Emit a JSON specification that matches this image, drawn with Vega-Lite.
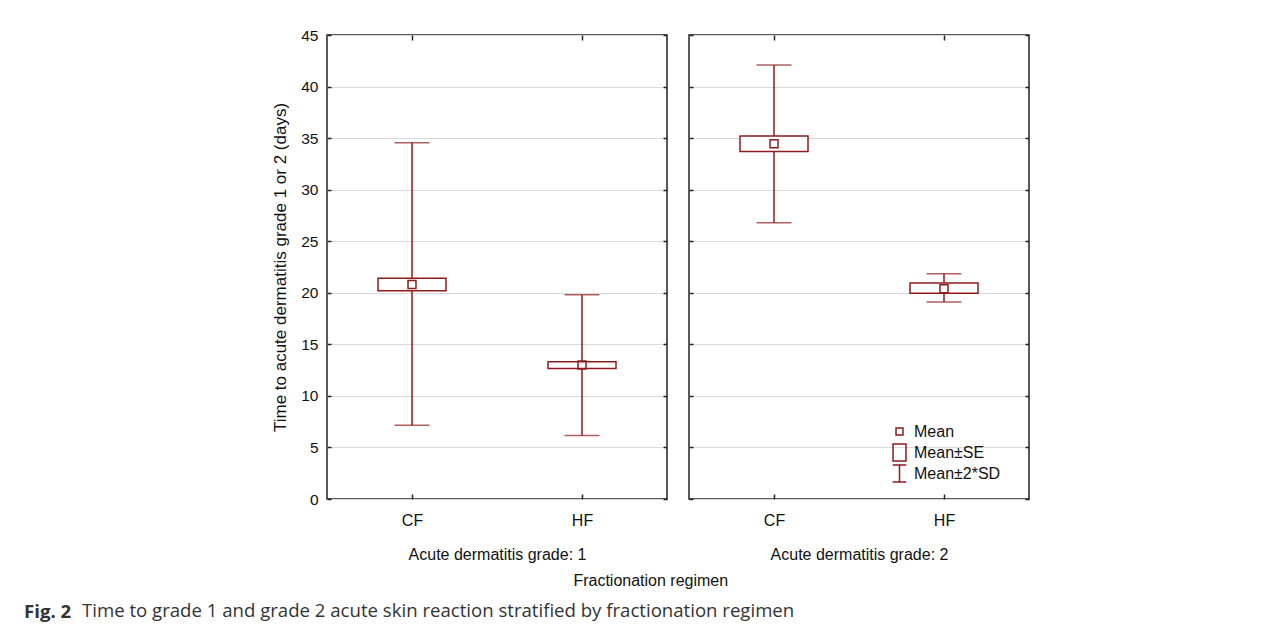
{
  "$schema": "https://vega.github.io/schema/vega-lite/v6.json",
  "background": "white",
  "padding": {"left": 24, "top": 27, "right": 5, "bottom": 5},
  "config": {
    "font": "Liberation Sans",
    "axis": {
      "minExtent": 0,
      "labelFont": "Liberation Sans",
      "titleFont": "Liberation Sans",
      "labelFontSize": 16,
      "titleFontSize": 16,
      "titleFontWeight": "normal",
      "labelColor": "#111111",
      "titleColor": "#111111",
      "tickColor": "#222222",
      "tickWidth": 1.5,
      "domain": false,
      "gridColor": "#d9d9d9",
      "gridWidth": 1.2
    },
    "view": {"stroke": "#222222", "strokeWidth": 1.5},
    "concat": {"spacing": 18}
  },
  "data": {
    "values": [
      {"grade": 1, "regimen": "CF", "mean": 20.8, "se_lo": 20.2, "se_hi": 21.4, "sd_lo": 7.15, "sd_hi": 34.55},
      {"grade": 1, "regimen": "HF", "mean": 13.0, "se_lo": 12.65, "se_hi": 13.3, "sd_lo": 6.15, "sd_hi": 19.8},
      {"grade": 2, "regimen": "CF", "mean": 34.45, "se_lo": 33.7, "se_hi": 35.2, "sd_lo": 26.8, "sd_hi": 42.1},
      {"grade": 2, "regimen": "HF", "mean": 20.4, "se_lo": 19.95, "se_hi": 20.95, "sd_lo": 19.1, "sd_hi": 21.85}
    ]
  },
  "title": {
    "text": "Time to grade 1 and grade 2 acute skin reaction stratified by fractionation regimen",
    "orient": "bottom",
    "anchor": "start",
    "dx": 58,
    "offset": -19,
    "font": "Open Sans",
    "fontSize": 18.6,
    "fontWeight": "normal",
    "color": "#333333"
  },
  "vconcat": [
    {
      "title": {"text": "Fig. 2", "orient": "bottom", "anchor": "start", "dx": -247, "offset": 14, "font": "Open Sans", "fontSize": 18.6, "fontWeight": "bold", "color": "#333333"},
      "vconcat": [
        {
          "title": {"text": "Fractionation regimen", "orient": "bottom", "anchor": "middle", "fontSize": 16, "fontWeight": "normal", "color": "#111111", "offset": 10, "font": "Liberation Sans"},
          "spacing": 18,
          "resolve": {"scale": {"shape": "independent"}, "legend": {"shape": "independent"}},
          "hconcat": [
            {
              "width": 340,
              "height": 464,
              "transform": [{"filter": "datum.grade == 1"}],
              "resolve": {"axis": {"x": "independent", "y": "independent"}},
              "layer": [
                {
                  "mark": {"type": "rule", "color": "#8c1d1d", "strokeWidth": 1.5},
                  "encoding": {
                    "x": {"field": "regimen", "type": "nominal", "sort": ["CF", "HF"], "scale": {"type": "point", "padding": 0.5},
                      "axis": {"orient": "bottom", "title": "Acute dermatitis grade: 1", "labelAngle": 0, "tickSize": -5, "labelPadding": 18, "titlePadding": 18}},
                    "y": {"field": "sd_lo", "type": "quantitative", "scale": {"domain": [0, 45], "nice": false},
                      "axis": {"orient": "left", "title": "Time to acute dermatitis grade 1 or 2 (days)", "titleFontSize": 17, "labelFontSize": 15.5, "values": [0, 5, 10, 15, 20, 25, 30, 35, 40, 45], "grid": true, "tickSize": -4, "labelPadding": 13, "titlePadding": 11}},
                    "y2": {"field": "sd_hi"}
                  }
                },
                {
                  "mark": {"type": "tick", "orient": "horizontal", "size": 35, "thickness": 1.5, "color": "#8c1d1d"},
                  "encoding": {
                    "x": {"field": "regimen", "type": "nominal", "sort": ["CF", "HF"], "scale": {"type": "point", "padding": 0.5},
                      "axis": {"orient": "top", "labels": false, "title": null, "tickSize": -5}},
                    "y": {"field": "sd_lo", "type": "quantitative", "scale": {"domain": [0, 45], "nice": false},
                      "axis": {"orient": "right", "labels": false, "title": null, "grid": false, "tickSize": -4, "values": [0, 5, 10, 15, 20, 25, 30, 35, 40, 45]}}
                  }
                },
                {
                  "mark": {"type": "tick", "orient": "horizontal", "size": 35, "thickness": 1.5, "color": "#8c1d1d"},
                  "encoding": {
                    "x": {"field": "regimen", "type": "nominal", "sort": ["CF", "HF"], "scale": {"type": "point", "padding": 0.5}, "axis": null},
                    "y": {"field": "sd_hi", "type": "quantitative", "scale": {"domain": [0, 45], "nice": false}, "axis": null}
                  }
                },
                {
                  "mark": {"type": "bar", "width": 68, "fill": "white", "stroke": "#8c1d1d", "strokeWidth": 1.5},
                  "encoding": {
                    "x": {"field": "regimen", "type": "nominal", "sort": ["CF", "HF"], "scale": {"type": "point", "padding": 0.5}, "axis": null},
                    "y": {"field": "se_lo", "type": "quantitative", "scale": {"domain": [0, 45], "nice": false}, "axis": null},
                    "y2": {"field": "se_hi"}
                  }
                },
                {
                  "mark": {"type": "point", "filled": false, "size": 380, "strokeWidth": 1.5, "color": "#8c1d1d", "opacity": 1},
                  "encoding": {
                    "x": {"field": "regimen", "type": "nominal", "sort": ["CF", "HF"], "scale": {"type": "point", "padding": 0.5}, "axis": null},
                    "y": {"field": "mean", "type": "quantitative", "scale": {"domain": [0, 45], "nice": false}, "axis": null},
                    "shape": {"datum": "Mean",
                      "scale": {"domain": ["Mean", "Mean±SE", "Mean±2*SD"], "range": ["M-0.41,-0.41H0.41V0.41H-0.41Z", "M-0.76,-1H0.76V1H-0.76Z", "M-0.8,-1H0.8M0,-1V1M-0.8,1H0.8"]},
                      "legend": null}
                  }
                }
              ]
            },
            {
              "width": 340,
              "height": 464,
              "transform": [{"filter": "datum.grade == 2"}],
              "resolve": {"axis": {"x": "independent", "y": "independent"}},
              "layer": [
                {
                  "mark": {"type": "rule", "color": "#8c1d1d", "strokeWidth": 1.5},
                  "encoding": {
                    "x": {"field": "regimen", "type": "nominal", "sort": ["CF", "HF"], "scale": {"type": "point", "padding": 0.5},
                      "axis": {"orient": "bottom", "title": "Acute dermatitis grade: 2", "labelAngle": 0, "tickSize": -5, "labelPadding": 18, "titlePadding": 18}},
                    "y": {"field": "sd_lo", "type": "quantitative", "scale": {"domain": [0, 45], "nice": false},
                      "axis": {"orient": "left", "title": null, "labels": false, "values": [0, 5, 10, 15, 20, 25, 30, 35, 40, 45], "grid": true, "tickSize": -4}},
                    "y2": {"field": "sd_hi"}
                  }
                },
                {
                  "mark": {"type": "tick", "orient": "horizontal", "size": 35, "thickness": 1.5, "color": "#8c1d1d"},
                  "encoding": {
                    "x": {"field": "regimen", "type": "nominal", "sort": ["CF", "HF"], "scale": {"type": "point", "padding": 0.5},
                      "axis": {"orient": "top", "labels": false, "title": null, "tickSize": -5}},
                    "y": {"field": "sd_lo", "type": "quantitative", "scale": {"domain": [0, 45], "nice": false},
                      "axis": {"orient": "right", "labels": false, "title": null, "grid": false, "tickSize": -4, "values": [0, 5, 10, 15, 20, 25, 30, 35, 40, 45]}}
                  }
                },
                {
                  "mark": {"type": "tick", "orient": "horizontal", "size": 35, "thickness": 1.5, "color": "#8c1d1d"},
                  "encoding": {
                    "x": {"field": "regimen", "type": "nominal", "sort": ["CF", "HF"], "scale": {"type": "point", "padding": 0.5}, "axis": null},
                    "y": {"field": "sd_hi", "type": "quantitative", "scale": {"domain": [0, 45], "nice": false}, "axis": null}
                  }
                },
                {
                  "mark": {"type": "bar", "width": 68, "fill": "white", "stroke": "#8c1d1d", "strokeWidth": 1.5},
                  "encoding": {
                    "x": {"field": "regimen", "type": "nominal", "sort": ["CF", "HF"], "scale": {"type": "point", "padding": 0.5}, "axis": null},
                    "y": {"field": "se_lo", "type": "quantitative", "scale": {"domain": [0, 45], "nice": false}, "axis": null},
                    "y2": {"field": "se_hi"}
                  }
                },
                {
                  "mark": {"type": "point", "filled": false, "size": 380, "strokeWidth": 1.5, "color": "#8c1d1d", "opacity": 1},
                  "encoding": {
                    "x": {"field": "regimen", "type": "nominal", "sort": ["CF", "HF"], "scale": {"type": "point", "padding": 0.5}, "axis": null},
                    "y": {"field": "mean", "type": "quantitative", "scale": {"domain": [0, 45], "nice": false}, "axis": null},
                    "shape": {"datum": "Mean",
                      "scale": {"domain": ["Mean", "Mean±SE", "Mean±2*SD"], "range": ["M-0.41,-0.41H0.41V0.41H-0.41Z", "M-0.76,-1H0.76V1H-0.76Z", "M-0.8,-1H0.8M0,-1V1M-0.8,1H0.8"]},
                      "legend": {"orient": "none", "legendX": 201, "legendY": 387, "title": null, "symbolSize": 289, "symbolStrokeWidth": 1.5, "symbolStrokeColor": "#8c1d1d", "symbolFillColor": "transparent", "labelFontSize": 16, "labelColor": "#111111", "labelOffset": 5, "rowPadding": -3, "padding": 0, "gridAlign": "all", "labelFont": "Liberation Sans"}}
                  }
                }
              ]
            }
          ]
        }
      ]
    }
  ]
}
